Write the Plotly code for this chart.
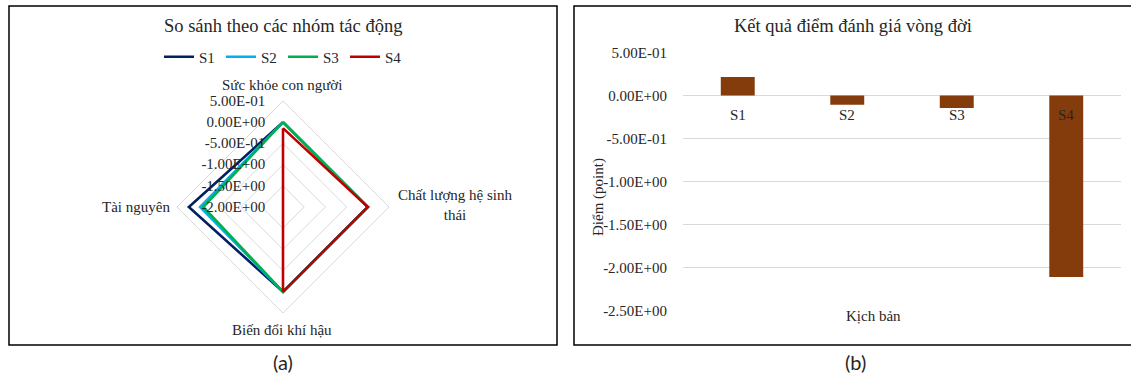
import plotly.graph_objects as go

W, H = 1131, 377

# ---- data -------------------------------------------------------------
scenarios = ["S1", "S2", "S3", "S4"]
impact_groups = ["Sức khỏe con người", "Chất lượng hệ sinh thái",
                 "Biến đổi khí hậu", "Tài nguyên"]
# radar values per scenario, in impact_groups order
s1_vals = [0.0, 0.0, 0.0, 0.22]
s2_vals = [0.0, 0.0, 0.0, -0.05]
s3_vals = [0.0, 0.0, 0.0, -0.12]
s4_vals = [-0.14, 0.0, 0.0, -2.0]
# total life-cycle score per scenario
total_scores = [0.213, -0.108, -0.146, -2.107]

radar_ticks = [-2.0, -1.5, -1.0, -0.5, 0.0, 0.5]
radar_ticktext = ["-2.00E+00", "-1.50E+00", "-1.00E+00", "-5.00E-01",
                  "0.00E+00", "5.00E-01"]
bar_ticks = [-2.5, -2.0, -1.5, -1.0, -0.5, 0.0, 0.5]
bar_ticktext = ["-2.50E+00", "-2.00E+00", "-1.50E+00", "-1.00E+00",
                "-5.00E-01", "0.00E+00", "5.00E-01"]

series_colors = ["#002060", "#00B0F0", "#00B050", "#C00000"]
bar_color = "#843C0C"
FONT = "Liberation Serif"
TXT = "#262626"


def px(x):
    return x / W


def py(y):
    return 1 - y / H


fig = go.Figure()

radar_series = [s1_vals, s2_vals, s3_vals, s4_vals]
for name, vals, col in zip(scenarios, radar_series, series_colors):
    fig.add_trace(go.Scatterpolar(
        r=vals + vals[:1],
        theta=impact_groups + impact_groups[:1],
        mode="lines",
        name=name,
        line=dict(color=col, width=2.6),
        subplot="polar",
    ))

fig.add_trace(go.Bar(
    x=scenarios, y=total_scores,
    marker=dict(color=bar_color, line=dict(width=0)),
    width=0.31,
    showlegend=False,
    xaxis="x", yaxis="y",
))

cx, cy, R = 283, 207, 106
fig.update_layout(
    width=W, height=H,
    margin=dict(l=0, r=0, t=0, b=0, autoexpand=False),
    paper_bgcolor="white",
    plot_bgcolor="white",
    font=dict(family=FONT, size=15, color=TXT),
    showlegend=True,
    legend=dict(
        orientation="h", x=px(283), y=py(57), xanchor="center",
        yanchor="middle", font=dict(size=15, color=TXT),
        entrywidth=17, entrywidthmode="pixels",
        tracegroupgap=0, bgcolor="rgba(0,0,0,0)",
    ),
    polar=dict(
        domain=dict(x=[px(cx - R), px(cx + R)], y=[py(cy + R), py(cy - R)]),
        gridshape="linear",
        bgcolor="white",
        radialaxis=dict(
            range=[-2, 0.5], tickvals=radar_ticks, ticktext=radar_ticktext,
            angle=90, tickangle=90, side="counterclockwise",
            showline=False, ticks="outside", ticklen=12,
            tickcolor="rgba(0,0,0,0)", gridcolor="#D9D9D9", gridwidth=1,
            tickfont=dict(size=15, color=TXT),
        ),
        angularaxis=dict(
            direction="clockwise", rotation=90, showticklabels=False,
            showgrid=False, showline=True, linecolor="#D9D9D9", linewidth=1,
            ticks="",
        ),
    ),
    xaxis=dict(
        domain=[px(683), px(1121)], showticklabels=False, ticks="",
        showline=False, showgrid=False, zeroline=False, fixedrange=True,
    ),
    yaxis=dict(
        domain=[py(311), py(52.3)], range=[-2.5, 0.5],
        tickvals=bar_ticks, ticktext=bar_ticktext,
        showgrid=True, gridcolor="#D9D9D9", gridwidth=1,
        zeroline=False, showline=False,
        ticks="outside", ticklen=12, tickcolor="rgba(0,0,0,0)",
        tickfont=dict(size=15, color=TXT),
    ),
)

# category labels sit just under the zero line
for s in scenarios:
    fig.add_annotation(x=s, y=0, xref="x", yref="y", text=s,
                       showarrow=False, yanchor="middle", yshift=-20,
                       font=dict(size=15, color=TXT))

# names of the radar axes, placed around the diamond
group_label_pos = [(282, 85), (455, 205), (282, 330), (136, 207)]
for name, (x, y) in zip(impact_groups, group_label_pos):
    label = name.replace("hệ sinh thái", "hệ sinh<br>thái")
    fig.add_annotation(x=px(x), y=py(y), xref="paper", yref="paper",
                       text=label, showarrow=False, xanchor="center",
                       yanchor="middle", align="center",
                       font=dict(size=15, color=TXT))

texts = [
    ("So sánh theo các nhóm tác động", 283, 26, 18.5, 0, FONT),
    ("Kết quả điểm đánh giá vòng đời", 853, 26, 18.5, 0, FONT),
    ("Kịch bản", 873, 316, 15, 0, FONT),
    ("Điểm (point)", 598, 197, 15, -90, FONT),
    ("(a)", 283, 362, 20, 0, "Lato"),
    ("(b)", 855, 362, 20, 0, "Lato"),
]
for t, x, y, size, ang, fam in texts:
    fig.add_annotation(x=px(x), y=py(y), xref="paper", yref="paper", text=t,
                       showarrow=False, xanchor="center", yanchor="middle",
                       textangle=ang,
                       font=dict(size=size, family=fam, color=TXT))

# panel frames
fig.add_shape(type="rect", xref="paper", yref="paper",
              x0=px(9), x1=px(557), y0=py(345), y1=py(6),
              line=dict(color="black", width=1.5))
fig.add_shape(type="rect", xref="paper", yref="paper",
              x0=px(574), x1=px(1140), y0=py(345), y1=py(6),
              line=dict(color="black", width=1.5))

fig.write_html("out.html")
